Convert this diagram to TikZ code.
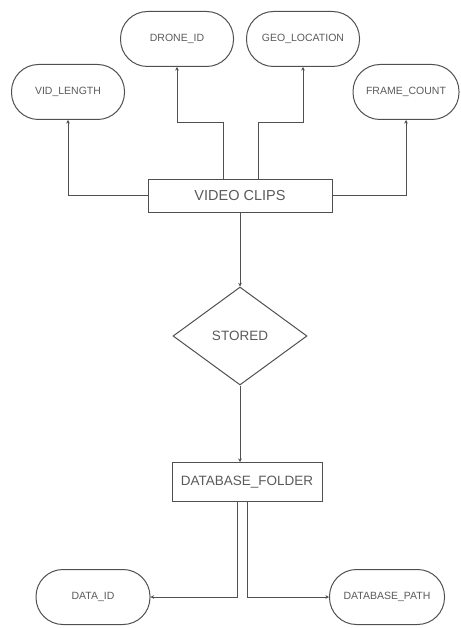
\documentclass[tikz,border=0pt]{standalone}
\usepackage{fontspec}
\setmainfont{Liberation Sans}
\usetikzlibrary{shapes.geometric,arrows.meta}
\definecolor{lineg}{HTML}{505050}
\definecolor{textg}{HTML}{5A5A5A}
\begin{document}
\begin{tikzpicture}[x=1pt, y=-1pt,
    attr/.style={draw=lineg, line width=1pt, rounded corners=27pt,
      minimum width=113pt, minimum height=55pt, text=textg,
      font=\fontsize{10.5}{12}\selectfont},
    entity/.style={draw=lineg, line width=1pt, minimum height=32pt,
      text=textg, font=\fontsize{13.5}{15}\selectfont},
    rel/.style={diamond, draw=lineg, line width=1pt, inner sep=0pt,
      minimum width=134pt, minimum height=98pt, text=textg,
      font=\fontsize{13.5}{15}\selectfont},
    conn/.style={draw=lineg, line width=1pt,
      -{Stealth[length=3.5pt, width=3.5pt]}}]
  \useasboundingbox (0,0) rectangle (460,628);
  % attributes on top
  \node[attr] (droneid) at (177,39) {DRONE\_ID};
  \node[attr] (geoloc) at (303,39) {GEO\_LOCATION};
  \node[attr] (vidlen) at (68,92) {VID\_LENGTH};
  \node[attr, minimum width=106pt] (framecnt) at (406,92) {FRAME\_COUNT};
  % entity, relation, entity
  \node[entity, minimum width=184pt, font=\fontsize{14.5}{16}\selectfont] (clips) at (240,196) {VIDEO CLIPS};
  \node[rel] (stored) at (240,336) {STORED};
  \node[entity, minimum width=150pt, minimum height=39pt] (dbfolder) at (247,482) {DATABASE\_FOLDER};
  % attributes at the bottom
  \node[attr, minimum width=114pt] (dataid) at (93,597) {DATA\_ID};
  \node[attr, minimum width=115pt] (dbpath) at (387,597) {DATABASE\_PATH};
  % connectors
  \draw[conn] (clips.west) -| (vidlen.south);
  \draw[conn] (clips.east) -| (framecnt.south);
  \draw[conn] ([xshift=-17pt]clips.north) -- ++(0,-57) -| (droneid.south);
  \draw[conn] ([xshift=18pt]clips.north) -- ++(0,-57) -| (geoloc.south);
  \draw[conn] (clips.south) -- (stored.north);
  \draw[conn] (stored.south) -- (stored.south |- dbfolder.north);
  \draw[conn] ([xshift=-10pt]dbfolder.south) |- (dataid.east);
  \draw[conn] (dbfolder.south) |- (dbpath.west);
\end{tikzpicture}
\end{document}
